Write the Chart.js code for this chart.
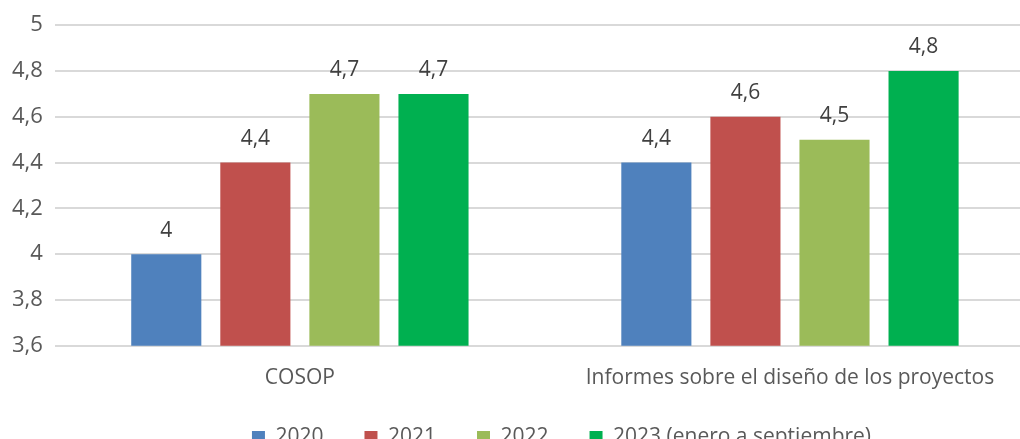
<!DOCTYPE html>
<html>
<head>
<meta charset="utf-8">
<script src="https://cdn.jsdelivr.net/npm/chart.js@4/dist/chart.umd.min.js"></script>
<style>
    html, body { margin: 0; padding: 0; background: #fff; overflow: hidden; }
    #wrap { position: relative; width: 1035px; height: 475px; }
</style>
</head>
<body>
<div id="wrap"><canvas id="chart"></canvas></div>
<script>
const categories = ['COSOP', 'Informes sobre el diseño de los proyectos'];
const seriesNames = ['2020', '2021', '2022', '2023 (enero a septiembre)'];
const values2020 = [4.0, 4.4];
const values2021 = [4.4, 4.6];
const values2022 = [4.7, 4.5];
const values2023 = [4.7, 4.8];
const colors = ['#4f81bd', '#c0504d', '#9bbb59', '#00b050'];
const yMin = 3.6;
const yMax = 5;
const yStep = 0.2;

const textColor = '#595959';
const fontFamily = '"Open Sans", "Noto Sans", sans-serif';

function formatNumber(value) {
    return String(Math.round(value * 10) / 10).replace('.', ',');
}

// value above each bar, placed from the bar element itself
const valueLabels = {
    id: 'valueLabels',
    afterDatasetsDraw(chart) {
        const ctx = chart.ctx;
        ctx.save();
        ctx.font = '21px ' + fontFamily;
        ctx.fillStyle = '#404040';
        ctx.textAlign = 'center';
        ctx.textBaseline = 'bottom';
        chart.data.datasets.forEach((dataset, i) => {
            chart.getDatasetMeta(i).data.forEach((bar, j) => {
                ctx.fillText(formatNumber(dataset.data[j]), bar.x, bar.y - 13);
            });
        });
        ctx.restore();
    },
};

// the original legend sits a little right of centre and close under the axis labels
const legendNudge = {
    id: 'legendNudge',
    afterLayout(chart) {
        const legend = chart.legend;
        if (!legend) {
            return;
        }
        legend.left += 44;
        legend.right += 44;
        legend.top -= 17;
        legend.bottom -= 17;
    },
};

const allValues = [values2020, values2021, values2022, values2023];

new Chart(document.getElementById('chart'), {
    type: 'bar',
    data: {
        labels: categories,
        datasets: allValues.map((data, i) => ({
            label: seriesNames[i],
            data: data,
            backgroundColor: colors[i],
            borderWidth: 0,
            categoryPercentage: 0.727,
            barPercentage: 0.787,
        })),
    },
    options: {
        responsive: true,
        maintainAspectRatio: false,
        animation: false,
        layout: { padding: { top: 11, left: 0, right: 0, bottom: 0 } },
        plugins: {
            legend: {
                position: 'bottom',
                labels: {
                    color: textColor,
                    font: { family: fontFamily, size: 21 },
                    boxWidth: 13,
                    boxHeight: 13,
                    padding: 41,
                },
            },
            tooltip: { enabled: false },
        },
        scales: {
            x: {
                grid: { display: false },
                border: { display: false },
                ticks: {
                    color: textColor,
                    font: { family: fontFamily, size: 21 },
                    padding: 12,
                },
            },
            y: {
                min: yMin,
                max: yMax,
                grid: { color: '#d9d9d9', lineWidth: 2, drawTicks: false },
                border: { display: false },
                ticks: {
                    stepSize: yStep,
                    color: textColor,
                    font: { family: fontFamily, size: 22 },
                    padding: 12,
                    callback: (value) => formatNumber(value),
                },
            },
        },
    },
    plugins: [valueLabels, legendNudge],
});
</script>
</body>
</html>
